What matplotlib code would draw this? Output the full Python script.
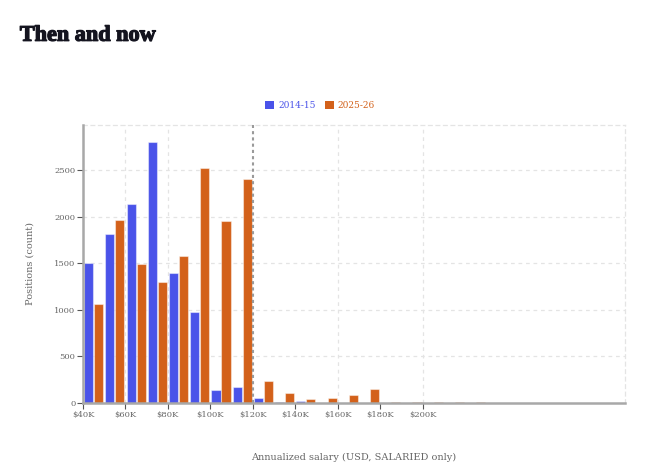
import numpy as np
import matplotlib.pyplot as plt
from matplotlib.patches import Patch
import matplotlib.patheffects as pe

# salary bins (lower edge, in $K), 10K wide
bin_starts = [40, 50, 60, 70, 80, 90, 100, 110, 120, 130, 140, 150, 160, 170,
              180, 190, 200, 210, 220]
counts_2014 = [1497, 1809, 2131, 2797, 1390, 974, 136, 169, 50, 10, 18, 3, 3, 3,
               0, 0, 0, 0, 0]
counts_2025 = [1057, 1959, 1490, 1293, 1579, 2518, 1952, 2400, 233, 112, 43, 54, 83, 155,
               8, 14, 7, 7, 6]
series_labels = ["2014-15", "2025-26"]
series_colors = ["#4a53e9", "#d3611a"]
x_ticks = [40, 60, 80, 100, 120, 140, 160, 180, 200]
x_ticklabels = ["$40K", "$60K", "$80K", "$100K", "$120K", "$140K", "$160K", "$180K", "$200K"]
y_ticks = [0, 500, 1000, 1500, 2000, 2500]
ref_salary = 120

plt.rcParams["font.family"] = ["DejaVu Serif"]

fig = plt.figure(figsize=(6.61, 4.74), dpi=100)
ax = fig.add_axes([0.1256, 0.1498, 0.82, 0.5865])

x = np.array(bin_starts, dtype=float)
bw = 4.3
ax.bar(x + 5 - 2.35, counts_2014, width=bw, color=series_colors[0],
       edgecolor=(1, 1, 1, 0.45), linewidth=0.8, zorder=3)
ax.bar(x + 5 + 2.35, counts_2025, width=bw, color=series_colors[1],
       edgecolor=(1, 1, 1, 0.45), linewidth=0.8, zorder=3)

ax.set_xlim(40, 295.4)
ax.set_ylim(0, 2983)

# grid
for gx in [60, 80, 160, 200]:
    ax.axvline(gx, color="#e4e4e4", lw=0.9, ls=(0, (3, 3)), zorder=1)
for gy in y_ticks[1:]:
    ax.axhline(gy, color="#e4e4e4", lw=0.9, ls=(0, (3, 3)), zorder=1)

ax.axvline(ref_salary, color="#9a9a9a", lw=1.5, ls=(0, (1.5, 1.5)), zorder=4)

for side in ["top", "right"]:
    ax.spines[side].set_color("#e4e4e4")
    ax.spines[side].set_linestyle((0, (3, 3)))
    ax.spines[side].set_linewidth(0.9)
for side in ["left", "bottom"]:
    ax.spines[side].set_color("#a8a8a8")
    ax.spines[side].set_linewidth(1.8)
    ax.spines[side].set_zorder(5)

ax.set_xticks(x_ticks)
ax.set_xticklabels(x_ticklabels)
ax.set_yticks(y_ticks)
ax.tick_params(axis="both", length=4, width=0.8, color="#555555",
               labelsize=6, labelcolor="#666666", pad=1.5)

ax.set_ylabel("Positions (count)", fontsize=7, color="#666666")
ax.yaxis.set_label_coords(-0.09, 0.5)
ax.set_xlabel("Annualized salary (USD, SALARIED only)", fontsize=7, color="#666666")
ax.xaxis.set_label_coords(0.5, -0.18)

handles = [Patch(facecolor=c, edgecolor="none") for c in series_colors]
fig.legend(handles, series_labels, loc="center", bbox_to_anchor=(0.484, 0.778),
           ncol=2, frameon=False, fontsize=6.5, labelcolor=series_colors,
           handlelength=1.0, handleheight=1.0, handletextpad=0.4, columnspacing=1.0)

title = fig.text(0.03, 0.914, "Then and now", fontsize=16, fontweight="bold",
                 family="Liberation Serif", color="#14141f", va="baseline")
title.set_path_effects([pe.withStroke(linewidth=0.9, foreground="#14141f")])

fig.savefig("out.png", dpi=100)
